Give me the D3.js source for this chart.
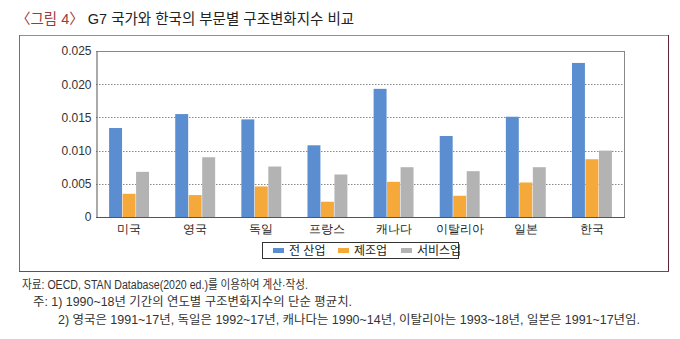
<!DOCTYPE html>
<html><head><meta charset="utf-8">
<script src="https://cdn.jsdelivr.net/npm/d3@7"></script>
<style>
body{margin:0;background:#fff;}
svg{display:block;font-family:"Liberation Sans","Noto Sans CJK KR",sans-serif;}
</style></head>
<body>
<script>
const categories = ["미국","영국","독일","프랑스","캐나다","이탈리아","일본","한국"];
const seriesNames = ["전 산업","제조업","서비스업"];
const allIndustry = [0.0134,0.0155,0.0147,0.0108,0.0193,0.0122,0.0151,0.0232];
const manufacturing = [0.0035,0.0033,0.0046,0.0023,0.0053,0.0032,0.0052,0.0087];
const services = [0.0068,0.0090,0.0076,0.0064,0.0075,0.0069,0.0075,0.0100];
const yTicks = [0,0.005,0.010,0.015,0.020,0.025];
const yTickLabels = ["0","0.005","0.010","0.015","0.020","0.025"];
const colors = ["#5b8ed0","#f5a93a","#b3b3b3"];

const W=680,H=339;
const svg=d3.select("body").append("svg").attr("width",W).attr("height",H);

// title
const title=svg.append("text").attr("x",16).attr("y",24).attr("font-size",14.5).attr("fill","#222");
title.append("tspan").attr("fill","#9a3c3c").text("〈그림 4〉");
title.append("tspan").text(" G7 국가와 한국의 부문별 구조변화지수 비교");

// outer frame
svg.append("line").attr("x1",19).attr("x2",669).attr("y1",35.5).attr("y2",35.5).attr("stroke","#a08890");
svg.append("line").attr("x1",19.5).attr("x2",19.5).attr("y1",35).attr("y2",272).attr("stroke","#8a6470");
svg.append("line").attr("x1",668.5).attr("x2",668.5).attr("y1",35).attr("y2",272).attr("stroke","#5c2634");
svg.append("line").attr("x1",19).attr("x2",669).attr("y1",271.5).attr("y2",271.5).attr("stroke","#6e4a55");

const L=96,R=625,T=51,B=217;
const x=d3.scaleBand().domain(categories).range([L,R]).paddingInner(0.38).paddingOuter(0.19);
const xs=d3.scaleBand().domain(seriesNames).range([0,x.bandwidth()]).padding(0.04);
const y=d3.scaleLinear().domain([0,0.025]).range([B,T]);

// grid
svg.append("g").selectAll("line").data(yTicks.slice(1,-1)).join("line")
  .attr("x1",L).attr("x2",R).attr("y1",d=>Math.round(y(d))+0.5).attr("y2",d=>Math.round(y(d))+0.5)
  .attr("stroke","#888").attr("stroke-dasharray","1.5,1.5");

// plot frame top/right
svg.append("line").attr("x1",L).attr("x2",R).attr("y1",T+0.5).attr("y2",T+0.5).attr("stroke","#888");
svg.append("line").attr("x1",R-0.5).attr("x2",R-0.5).attr("y1",T).attr("y2",B).attr("stroke","#888");

// bars
const data=[allIndustry,manufacturing,services];
seriesNames.forEach((s,i)=>{
  svg.append("g").selectAll("rect").data(categories).join("rect")
    .attr("x",c=>x(c)+xs(s)).attr("width",xs.bandwidth())
    .attr("y",(c,j)=>y(data[i][j])).attr("height",(c,j)=>B-y(data[i][j]))
    .attr("fill",colors[i]);
});

// axes
const ya=svg.append("g").attr("transform",`translate(${L+0.5},0)`)
  .call(d3.axisLeft(y).tickValues(yTicks).tickFormat((d,i)=>yTickLabels[i]).tickSize(0).tickPadding(5));
ya.select(".domain").attr("stroke","#555");
ya.selectAll("text").attr("font-size",12).attr("fill","#333").attr("font-family",null);
const xa=svg.append("g").attr("transform",`translate(0,${B+0.5})`)
  .call(d3.axisBottom(x).tickSize(0).tickPadding(7));
xa.select(".domain").attr("stroke","#555").attr("d",`M${L},0H${R}`);
xa.selectAll("text").attr("font-size",12).attr("fill","#222").attr("font-family",null);

// legend
const lg=svg.append("g");
lg.append("rect").attr("x",262.5).attr("y",242.5).attr("width",196).attr("height",16).attr("fill","#fff").attr("stroke","#333");
const lx=[273,338,401];
seriesNames.forEach((s,i)=>{
  lg.append("rect").attr("x",lx[i]).attr("y",248).attr("width",11).attr("height",5).attr("fill",colors[i]);
  lg.append("text").attr("x",lx[i]+16).attr("y",255).attr("font-size",12).attr("fill","#222").text(s);
});

// footer
const ft=[
  {x:22,y:289,w:286,t:"자료: OECD, STAN Database(2020 ed.)를 이용하여 계산·작성."},
  {x:33,y:306,w:319,t:"주: 1) 1990~18년 기간의 연도별 구조변화지수의 단순 평균치."},
  {x:58,y:324,w:582,t:"2) 영국은 1991~17년, 독일은 1992~17년, 캐나다는 1990~14년, 이탈리아는 1993~18년, 일본은 1991~17년임."}
];
svg.append("g").selectAll("text").data(ft).join("text")
  .attr("x",d=>d.x).attr("y",d=>d.y).attr("font-size",12).attr("fill","#333")
  .attr("textLength",d=>d.w).attr("lengthAdjust","spacingAndGlyphs").text(d=>d.t);
</script>
</body></html>
